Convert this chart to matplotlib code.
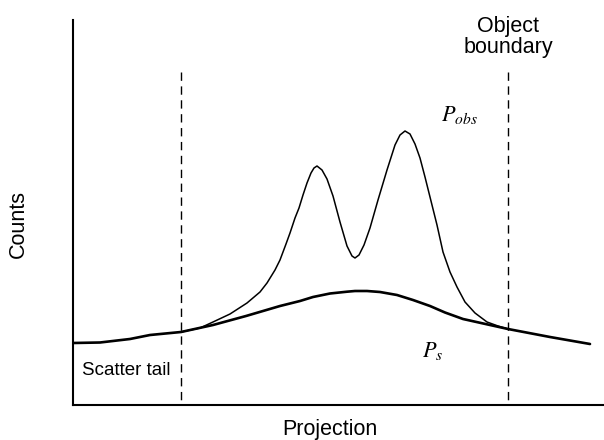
import matplotlib
matplotlib.use("Agg")
import matplotlib.pyplot as plt

plt.rcParams["font.family"] = ["Liberation Sans", "DejaVu Sans"]
plt.rcParams["mathtext.fontset"] = "stix"

# scatter profile P_s (projection, counts)
ps_x = [0, 27, 57, 77, 108, 140, 173, 207, 227, 240, 257, 274, 282, 294, 307, 324, 340, 357, 372, 390, 417, 435, 477, 517]
ps_y = [62, 62.5, 66, 70, 73, 80, 89, 99, 104, 108, 111.5, 113.3, 114, 114, 113, 110, 105, 99, 92.5, 86, 80, 76, 68, 61]

# observed profile P_obs inside the object
pobs_x = [108, 127, 140, 157, 174, 187, 194, 202, 207, 213, 217, 222, 226, 230, 234, 238, 241, 244,
          249, 254, 260, 267, 274, 279, 282, 286, 291, 297, 305, 314, 322, 327, 332, 337, 342, 347,
          352, 357, 364, 370, 377, 384, 392, 402, 414, 425, 435]
pobs_y = [73, 77, 83, 91, 102, 113, 122, 135, 145, 161, 172, 187, 197, 210, 222, 232, 237, 239,
          235, 226, 209, 183, 159, 149, 147, 150, 160, 177, 205, 235, 260, 270, 274, 271, 261, 247,
          228, 208, 180, 153, 133, 118, 103, 92, 83, 79, 76]

boundaries = [108, 435]
boundary_top = 333

fig = plt.figure(figsize=(6.04, 4.40), dpi=100)
ax = fig.add_axes([73/604, 35/440, 531/604, 385/440])
ax.set_xlim(0, 531); ax.set_ylim(0, 385)
for s in ["top", "right"]:
    ax.spines[s].set_visible(False)
for s in ["left", "bottom"]:
    ax.spines[s].set_linewidth(1.5)
ax.set_xticks([]); ax.set_yticks([])

# draw dashes from the top down so the top starts with a dash
ax.vlines(boundaries, boundary_top, 0, colors="black", lw=1.0, linestyles=(0, (6, 4)))
ax.plot(ps_x, ps_y, color="black", lw=1.9, solid_joinstyle="round", solid_capstyle="round")
ax.plot(pobs_x, pobs_y, color="black", lw=1.1, solid_joinstyle="round")

ax.text(53, 35, "Scatter tail", fontsize=13.5, ha="center", va="center")
ax.text(435, 368, "Object\nboundary", fontsize=15.5, ha="center", va="center", linespacing=1.0)
ax.text(386, 290, r"$P_{obs}$", fontsize=16, ha="center", va="center")
ax.text(360, 54, r"$P_s$", fontsize=16, ha="center", va="center")

fig.text(330/604, 5/440, "Projection", fontsize=15.5, ha="center", va="baseline")
fig.text(18/604, 1 - 224/440, "Counts", fontsize=15.5, ha="center", va="center", rotation=90)

plt.savefig("out.png", dpi=100)
